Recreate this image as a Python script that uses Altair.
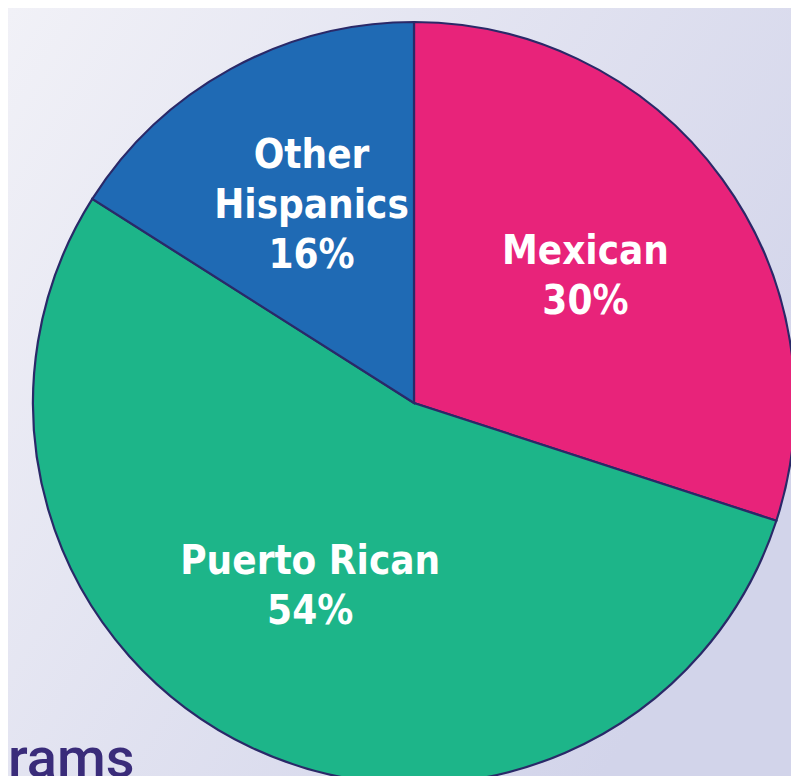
import math
import altair as alt
import pandas as pd

groups = ["Mexican", "Puerto Rican", "Other Hispanics"]
shares = [30, 54, 16]
labels = [["Mexican", "30%"], ["Puerto Rican", "54%"], ["Other", "Hispanics", "16%"]]
colors = ["#E8237A", "#1DB589", "#1F6AB4"]
order_idx = [0, 1, 2]
footer_text = ["rams"]

df = pd.DataFrame({"group": groups, "share": shares, "label": labels, "idx": order_idx})

W, H = 783, 768
CX, CY = 406, 395
R = 381
LH = 50
ROT = math.radians(2)

bg = alt.Chart(pd.DataFrame({"a": [0]})).mark_rect(
    color=alt.Gradient(
        gradient="linear",
        x1=0, y1=0, x2=1, y2=0.6,
        stops=[
            alt.GradientStop(offset=0, color="#F1F1F7"),
            alt.GradientStop(offset=1, color="#D2D4EA"),
        ],
    )
).encode(x=alt.value(0), x2=alt.value(W), y=alt.value(0), y2=alt.value(H))

pie = alt.Chart(df).mark_arc(stroke="#2A2968", strokeWidth=2.2, radius=R).encode(
    theta=alt.Theta("share:Q", stack=True),
    order=alt.Order("idx:Q"),
    color=alt.Color("group:N", scale=alt.Scale(domain=groups, range=colors), legend=None),
    x=alt.value(CX),
    y=alt.value(CY),
)

text = (
    alt.Chart(df)
    .transform_window(cum="sum(share)", sort=[alt.SortField("idx")])
    .transform_calculate(
        mid="datum.cum - datum.share / 2",
        shift=f"-(length(datum.label) - 1) * {LH} / 2",
    )
    .mark_text(
        radius=214,
        dx=-6,
        dy=-6,
        font="DejaVu Sans Condensed",
        fontWeight="bold",
        fontSize=40,
        lineHeight=LH,
        color="white",
        align="center",
        baseline="middle",
    )
    .encode(
        theta=alt.Theta(
            "mid:Q",
            stack=None,
            scale=alt.Scale(domain=[0, sum(shares)], range=[ROT, 2 * math.pi + ROT]),
        ),
        text="label",
        x=alt.value(CX),
        y=alt.value(CY),
        yOffset=alt.YOffset("shift:Q", scale=None),
    )
)

footer = alt.Chart(pd.DataFrame({"t": footer_text})).mark_text(
    font="Roboto",
    fontWeight=500,
    fontSize=56,
    color="#3A2C7A",
    align="left",
    baseline="alphabetic",
).encode(text="t:N", x=alt.value(0), y=alt.value(769))

chart = (
    alt.layer(bg, pie, text, footer)
    .resolve_scale(theta="independent")
    .properties(
        width=W,
        height=H,
        autosize=alt.AutoSizeParams(type="none"),
        padding=0,
        background="#E4E4F0",
    )
    .configure_view(strokeWidth=0)
)

chart.save("out.html", embed_options={"renderer": "svg", "actions": False})
